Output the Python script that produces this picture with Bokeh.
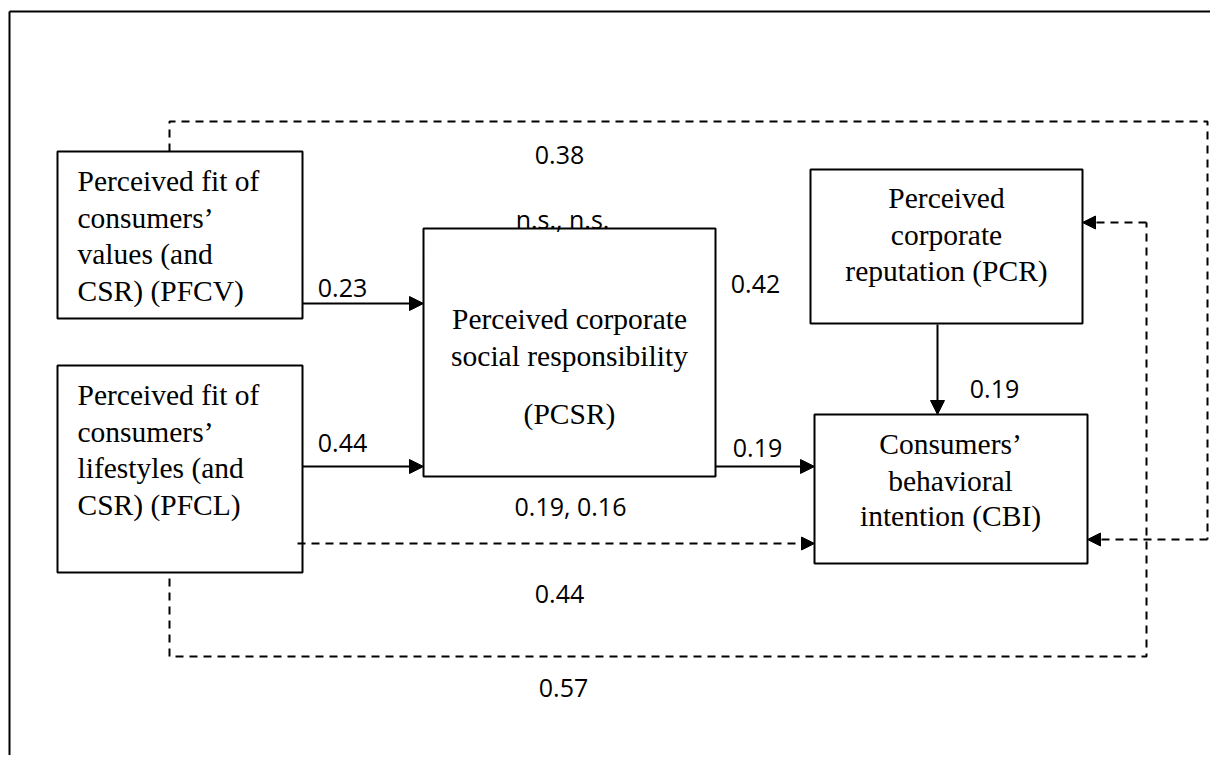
from bokeh.plotting import figure
from bokeh.models import Range1d, Arrow, NormalHead, ColumnDataSource
from bokeh.embed import file_html
from bokeh.resources import INLINE
from bokeh.core.properties import value

# ---------------- data ----------------
node_ids = ["PFCV", "PFCL", "PCSR", "PCR", "CBI"]
node_lines = [
    ["Perceived fit of", "consumers\u2019", "values (and", "CSR) (PFCV)"],
    ["Perceived fit of", "consumers\u2019", "lifestyles (and", "CSR) (PFCL)"],
    ["Perceived corporate", "social responsibility", "(PCSR)"],
    ["Perceived", "corporate", "reputation (PCR)"],
    ["Consumers\u2019", "behavioral", "intention (CBI)"],
]
coef_labels = ["0.38", "n.s., n.s.", "0.23", "0.42", "0.19", "0.44", "0.19", "0.19, 0.16", "0.44", "0.57"]

# ---------------- layout (picture pixels) ----------------
box_left = [57, 57, 423, 810, 814]
box_right = [302, 302, 715, 1082, 1087]
box_top = [151, 365, 228, 169, 414]
box_bottom = [318, 572, 476, 323, 563]
text_align = ["left", "left", "center", "center", "center"]
text_x = [77, 77, 569, 946, 950]
line_offsets = [
    [29, 66, 102, 139],
    [29, 66, 102, 139],
    [90, 127, 185],
    [28, 65, 101],
    [29, 66, 101],
]
label_x = [559, 562, 342, 755, 994, 342, 757, 570, 559, 563]
label_y = [154, 218, 287, 283, 388, 442, 447, 505, 593, 687]

solid_arrows = [  # (x0, y0, x1, y1)
    (302, 303, 423, 303),
    (302, 466, 423, 466),
    (715, 466, 814, 466),
    (937, 324, 937, 414),
]

dashed_paths = [
    ([169, 169, 1207, 1207], [151, 121, 121, 539], (1207, 539, 1087, 539)),
    ([169, 169, 1146, 1146], [578, 656, 656, 222], (1146, 222, 1082, 222)),
    ([297], [543], (297, 543, 814, 543)),
]

W, H = 1210, 755
p = figure(width=W, height=H, output_backend="svg", toolbar_location=None,
           x_range=Range1d(0, W), y_range=Range1d(H, 0),
           min_border=0, outline_line_color=None)
p.xaxis.visible = False
p.yaxis.visible = False
p.xgrid.visible = False
p.ygrid.visible = False
p.background_fill_color = "white"

# outer frame (top and left visible)
p.segment(x0=[9, 9], y0=[11, 11], x1=[W + 20, 9], y1=[11, H + 20],
          line_color="black", line_width=2)

# boxes
p.quad(left=box_left, right=box_right, top=box_top, bottom=box_bottom,
       fill_color="white", line_color="black", line_width=2)

# node texts
tx, ty, tt, ta = [], [], [], []
for i, lines in enumerate(node_lines):
    for j, ln in enumerate(lines):
        tx.append(text_x[i])
        ty.append(box_top[i] + line_offsets[i][j])
        tt.append(ln)
        ta.append(text_align[i])
src = ColumnDataSource(dict(x=tx, y=ty, text=tt, align=ta))
p.text(x="x", y="y", text="text", source=src, text_align="align",
       text_baseline="middle", text_font=value("Liberation Serif"),
       text_font_size="29.5px", text_color="black")

# solid arrows
for (x0, y0, x1, y1) in solid_arrows:
    p.add_layout(Arrow(x_start=x0, y_start=y0, x_end=x1, y_end=y1,
                       line_color="black", line_width=2,
                       end=NormalHead(size=14, fill_color="black", line_color="black", line_width=1)))

# dashed paths
for xs, ys, (x0, y0, x1, y1) in dashed_paths:
    if len(xs) > 1:
        p.line(xs, ys, line_color="black", line_width=2, line_dash="8 6")
    p.add_layout(Arrow(x_start=x0, y_start=y0, x_end=x1, y_end=y1,
                       line_color="black", line_width=2, line_dash="8 6",
                       end=NormalHead(size=13, fill_color="black", line_color="black",
                                      line_width=1, line_dash="solid")))

# coefficient labels
lsrc = ColumnDataSource(dict(x=label_x, y=label_y, text=coef_labels))
p.text(x="x", y="y", text="text", source=lsrc, text_align="center",
       text_baseline="middle", text_font=value("Open Sans"),
       text_font_size="25px", text_color="black")

open("out.html", "w").write(file_html(p, INLINE))
